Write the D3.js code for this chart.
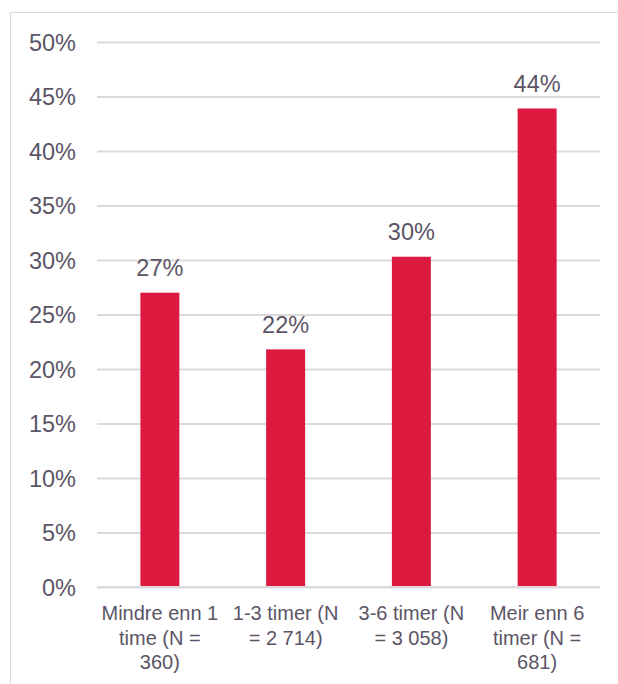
<!DOCTYPE html>
<html>
<head>
<meta charset="utf-8">
<script src="https://cdn.jsdelivr.net/npm/d3@7/dist/d3.min.js"></script>
<style>
  html, body { margin: 0; padding: 0; background: #fff; }
  svg { display: block; font-family: "Liberation Sans", Arial, sans-serif; }
</style>
</head>
<body>
<svg id="chart" width="618" height="684"></svg>
<script>
const categories = [
  "Mindre enn 1\ntime (N =\n360)",
  "1-3 timer (N\n= 2 714)",
  "3-6 timer (N\n= 3 058)",
  "Meir enn 6\ntimer (N =\n681)"
];
const values = [27.0, 21.8, 30.3, 43.9];
const valueLabels = ["27%", "22%", "30%", "44%"];
const yTicks = [0, 5, 10, 15, 20, 25, 30, 35, 40, 45, 50];

const svg = d3.select("#chart");
const textColor = "#5b5566";
const gridColor = "#dcd9dd";
const barColor = "#dc1a40";

// chart frame
svg.append("path")
  .attr("d", "M10.5,700 V12.5 H640")
  .attr("fill", "none")
  .attr("stroke", "#d9d9d9")
  .attr("stroke-width", 1);

const x = d3.scaleBand().domain(categories).range([97, 600]).paddingInner(0.69).paddingOuter(0.345);
const y = d3.scaleLinear().domain([0, 50]).range([587, 42]);

// gridlines
const yAxis = d3.axisLeft(y).tickValues(yTicks).tickSize(-(600 - 97)).tickFormat(d => d + "%").tickPadding(21);
const gAxis = svg.append("g").attr("transform", "translate(97,0)").call(yAxis);
gAxis.select(".domain").remove();
gAxis.selectAll(".tick line").attr("stroke", gridColor).attr("stroke-width", 2);
gAxis.selectAll(".tick text")
  .attr("fill", textColor)
  .attr("font-size", "23.5px")
  .attr("font-family", "'Liberation Sans', Arial, sans-serif")
  .attr("dy", "0.36em");

// bars
svg.append("g").selectAll("rect").data(values).join("rect")
  .attr("x", (d, i) => x(categories[i]))
  .attr("width", x.bandwidth())
  .attr("y", d => y(d))
  .attr("height", d => y(0) - y(d))
  .attr("fill", barColor);

// baseline
svg.append("line")
  .attr("x1", 97).attr("x2", 600)
  .attr("y1", y(0)).attr("y2", y(0))
  .attr("stroke", gridColor).attr("stroke-width", 2);

// value labels
svg.append("g").selectAll("text").data(values).join("text")
  .attr("x", (d, i) => x(categories[i]) + x.bandwidth() / 2)
  .attr("y", d => y(d) - 16.5)
  .attr("text-anchor", "middle")
  .attr("fill", textColor)
  .attr("font-size", "23.5px")
  .text((d, i) => valueLabels[i]);

// category labels
const cat = svg.append("g").selectAll("text").data(categories).join("text")
  .attr("x", d => x(d) + x.bandwidth() / 2)
  .attr("y", 620)
  .attr("text-anchor", "middle")
  .attr("fill", textColor)
  .attr("font-size", "20px");
cat.each(function(d) {
  const t = d3.select(this);
  const cx = x(d) + x.bandwidth() / 2;
  d.split("\n").forEach((line, i) => {
    t.append("tspan").attr("x", cx).attr("dy", i === 0 ? 0 : 24.5).text(line);
  });
});
</script>
</body>
</html>
